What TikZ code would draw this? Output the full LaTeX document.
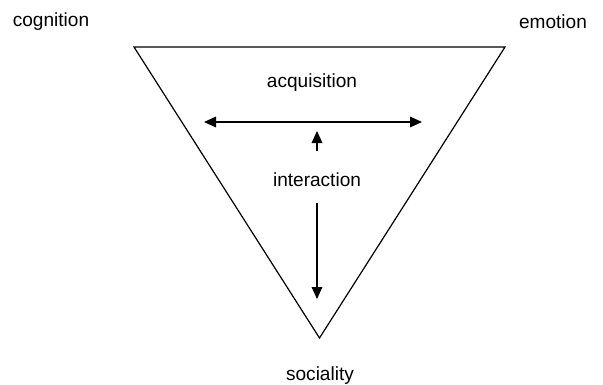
\documentclass[tikz,border=0pt]{standalone}
\usepackage{fontspec}
\setmainfont{Liberation Sans}
\usetikzlibrary{arrows.meta}
\begin{document}
\begin{tikzpicture}[x=0.75pt,y=-0.75pt,
  lbl/.style={font=\fontsize{14.3pt}{16pt}\selectfont, inner sep=0pt},
  edge/.style={line width=0.9pt},
  arr/.style={line width=0.9pt, -{Triangle[length=9pt,width=8pt]}},
  darr/.style={line width=0.9pt, {Triangle[length=9pt,width=8pt]}-{Triangle[length=9pt,width=8pt]}}]
\useasboundingbox (0,0) rectangle (603,385);
\coordinate (tl) at (134,47);
\coordinate (tr) at (505,47);
\coordinate (bt) at (319.5,338);
\draw[edge, line join=miter] (tl) -- (tr) -- (bt) -- cycle;
\node[lbl] (cog) at (51,22) {cognition};
\node[lbl] (emo) at (553,22) {emotion};
\node[lbl] (acq) at (312,83) {acquisition};
\node[lbl] (int) at (317,180) {interaction};
\node[lbl] (soc) at (320,376) {sociality};
\coordinate (hl) at (204,122);
\coordinate (hr) at (422,122);
\coordinate (us) at (317,151);
\coordinate (ut) at (317,131);
\coordinate (ds) at (317,203);
\coordinate (dt) at (317,299);
\draw[darr] (hl) -- (hr);
\draw[arr] (us) -- (ut);
\draw[arr] (ds) -- (dt);
\end{tikzpicture}
\end{document}
